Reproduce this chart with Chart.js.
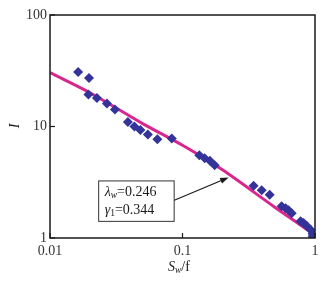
<!DOCTYPE html>
<html>
<head>
<meta charset="utf-8">
<script src="https://cdn.jsdelivr.net/npm/chart.js@4/dist/chart.umd.min.js"></script>
<style>
  body { margin: 0; background: #fff; }
  canvas { display: block; }
</style>
</head>
<body>
<canvas id="Chart_Sw_I" width="325" height="283"></canvas>
<script>
// measured points, S_w/f vs I
var swValues = [0.0163, 0.0197, 0.0195, 0.0226, 0.0269, 0.0309, 0.0387, 0.0434, 0.0481, 0.0548,
  0.0646, 0.083, 0.134, 0.147, 0.161, 0.175, 0.344, 0.396, 0.455, 0.56,
  0.60, 0.632, 0.667, 0.778, 0.82, 0.865, 0.927, 0.959, 0.96];
var iValues = [30.8, 27.2, 19.35, 18.0, 16.06, 14.19, 10.95, 9.98, 9.28, 8.46,
  7.70, 7.79, 5.53, 5.20, 4.94, 4.50, 2.94, 2.68, 2.44, 1.93,
  1.85, 1.77, 1.67, 1.41, 1.36, 1.29, 1.185, 1.09, 1.036];

// fitted curve
var fitSw = [0.01, 0.02, 0.05, 0.1, 0.2, 0.5, 1];
var fitI = [30.4, 20.1, 10.62, 6.78, 4.09, 1.88, 1.06];

var xTicks = [0.01, 0.1, 1];
var yTicks = [1, 10, 100];

var serif = "'Liberation Serif', 'DejaVu Serif', serif";
var ink = '#1a1a1a';

// annotation box (data coords) and arrow
var note = { x0: 0.0233, x1: 0.0865, yTop: 3.25, yBot: 1.41, arrowFrom: [0.0868, 2.18], arrowTo: [0.223, 3.49] };

function drawRuns(ctx, x, y, runs, size) {
  runs.forEach(function (r) {
    var s = r.sub ? size * 0.68 : size;
    ctx.font = (r.italic ? 'italic ' : '') + s + 'px ' + serif;
    ctx.fillText(r.t, x, y + (r.sub ? size * 0.25 : 0));
    x += ctx.measureText(r.t).width;
  });
}

var framePlugin = {
  id: 'frame',
  afterDraw: function (chart) {
    var ctx = chart.ctx, a = chart.chartArea;
    var xs = chart.scales.x, ys = chart.scales.y;
    ctx.save();
    ctx.strokeStyle = ink;
    ctx.lineWidth = 1.5;
    ctx.strokeRect(a.left, a.top, a.right - a.left, a.bottom - a.top);

    // inward tick marks
    ctx.lineWidth = 1.2;
    xTicks.forEach(function (v) {
      var px = xs.getPixelForValue(v);
      ctx.beginPath(); ctx.moveTo(px, a.bottom); ctx.lineTo(px, a.bottom - 5); ctx.stroke();
    });
    yTicks.forEach(function (v) {
      var py = ys.getPixelForValue(v);
      ctx.beginPath(); ctx.moveTo(a.left, py); ctx.lineTo(a.left + 5, py); ctx.stroke();
    });

    // axis titles
    ctx.fillStyle = ink;
    ctx.textBaseline = 'middle';
    ctx.textAlign = 'left';
    drawRuns(ctx, 168, 267, [{ t: 'S', italic: true }, { t: 'w', italic: true, sub: true }, { t: '/f' }], 14);
    ctx.save();
    ctx.translate(15, 126);
    ctx.rotate(-Math.PI / 2);
    ctx.textAlign = 'center';
    ctx.font = 'italic 14px ' + serif;
    ctx.fillText('I', 0, 0);
    ctx.restore();

    // annotation box
    var bx0 = xs.getPixelForValue(note.x0), bx1 = xs.getPixelForValue(note.x1);
    var by0 = ys.getPixelForValue(note.yTop), by1 = ys.getPixelForValue(note.yBot);
    ctx.fillStyle = '#fff';
    ctx.fillRect(bx0, by0, bx1 - bx0, by1 - by0);
    ctx.strokeStyle = '#333';
    ctx.lineWidth = 1;
    ctx.strokeRect(bx0, by0, bx1 - bx0, by1 - by0);
    ctx.fillStyle = ink;
    ctx.textAlign = 'left';
    drawRuns(ctx, bx0 + 6, by0 + 11, [{ t: 'λ', italic: true }, { t: 'w', italic: true, sub: true }, { t: '=0.246' }], 14);
    drawRuns(ctx, bx0 + 6, by0 + 29, [{ t: 'γ', italic: true }, { t: '1', sub: true }, { t: '=0.344' }], 14);

    // arrow
    var ax0 = xs.getPixelForValue(note.arrowFrom[0]), ay0 = ys.getPixelForValue(note.arrowFrom[1]);
    var ax1 = xs.getPixelForValue(note.arrowTo[0]), ay1 = ys.getPixelForValue(note.arrowTo[1]);
    var ang = Math.atan2(ay1 - ay0, ax1 - ax0);
    ctx.strokeStyle = ink;
    ctx.lineWidth = 1.2;
    ctx.beginPath(); ctx.moveTo(ax0, ay0); ctx.lineTo(ax1 - 6 * Math.cos(ang), ay1 - 6 * Math.sin(ang)); ctx.stroke();
    ctx.beginPath();
    ctx.moveTo(ax1, ay1);
    ctx.lineTo(ax1 - 9 * Math.cos(ang - 0.35), ay1 - 9 * Math.sin(ang - 0.35));
    ctx.lineTo(ax1 - 9 * Math.cos(ang + 0.35), ay1 - 9 * Math.sin(ang + 0.35));
    ctx.closePath();
    ctx.fill();
    ctx.restore();
  }
};

var ctx = document.getElementById('Chart_Sw_I').getContext('2d');
new Chart(ctx, {
  type: 'scatter',
  data: {
    datasets: [{
      label: 'measured',
      data: swValues.map(function (v, i) { return { x: v, y: iValues[i] }; }),
      pointStyle: 'rectRot',
      pointRadius: 5,
      backgroundColor: '#333399',
      borderColor: '#333399',
      borderWidth: 0,
      order: 0
    }, {
      label: 'fit',
      type: 'line',
      data: fitSw.map(function (v, i) { return { x: v, y: fitI[i] }; }),
      borderColor: '#d9268e',
      borderWidth: 3,
      pointRadius: 0,
      tension: 0.3,
      fill: false,
      order: 1
    }]
  },
  options: {
    responsive: false,
    animation: false,
    devicePixelRatio: 1,
    layout: { padding: { top: 15, right: 10, left: 0, bottom: 0 } },
    plugins: { legend: { display: false }, tooltip: { enabled: false } },
    scales: {
      x: {
        type: 'logarithmic',
        min: 0.01, max: 1,
        afterBuildTicks: function (s) { s.ticks = xTicks.map(function (v) { return { value: v }; }); },
        afterFit: function (s) { s.height = 45; },
        grid: { display: false, drawTicks: false },
        border: { display: false },
        ticks: {
          color: '#333', padding: 5, maxRotation: 0,
          font: { family: serif, size: 14 },
          callback: function (v) { return String(v); }
        }
      },
      y: {
        type: 'logarithmic',
        min: 1, max: 100,
        afterBuildTicks: function (s) { s.ticks = yTicks.map(function (v) { return { value: v }; }); },
        afterFit: function (s) { s.width = 50; },
        grid: { display: false, drawTicks: false },
        border: { display: false },
        ticks: {
          color: '#333', padding: 3,
          font: { family: serif, size: 14 },
          callback: function (v) { return String(v); }
        }
      }
    }
  },
  plugins: [framePlugin]
});
</script>
</body>
</html>
